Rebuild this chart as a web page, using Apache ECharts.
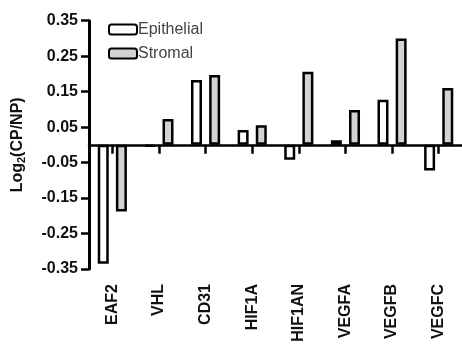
<!DOCTYPE html>
<html><head><meta charset="utf-8">
<script src="https://cdn.jsdelivr.net/npm/echarts@6/dist/echarts.min.js"></script>
<style>html,body{margin:0;padding:0;background:#fff}#c{width:462px;height:350px}</style>
</head><body><div id="c"></div>
<script>
const categories = ['EAF2','VHL','CD31','HIF1A','HIF1AN','VEGFA','VEGFB','VEGFC'];
const epithelial = [-0.335, -0.005, 0.183, 0.042, -0.042, 0.013, 0.127, -0.072];
const stromal = [-0.188, 0.073, 0.197, 0.055, 0.206, 0.098, 0.300, 0.160];
const yTicks = [-0.35, -0.25, -0.15, -0.05, 0.05, 0.15, 0.25, 0.35];

const chart = echarts.init(document.getElementById('c'));
const font = 'Arial, "Liberation Sans", sans-serif';
chart.setOption({
  animation: false,
  grid: {left: 89, right: 0, top: 20.7, bottom: 81},
  legend: {
    orient: 'vertical', left: 108, top: 21.5, padding: 0,
    itemWidth: 28, itemHeight: 10, itemGap: 8,
    icon: 'roundRect',
    textStyle: {fontFamily: font, fontSize: 16, color: '#444', padding: [0,0,0,-4]},
    data: ['Epithelial', 'Stromal']
  },
  xAxis: [{
    type: 'category', data: categories, position: 'bottom',
    axisLine: {show: false, onZero: false}, axisTick: {show: false},
    axisLabel: {interval: 0, rotate: 90, margin: 15, fontFamily: font, fontSize: 16, fontWeight: 'bold', color: '#111'}
  }, {
    type: 'category', data: categories, position: 'bottom',
    axisLine: {show: true, onZero: true, lineStyle: {color: '#000', width: 2.5}},
    axisTick: {show: true, interval: 0, alignWithLabel: true, length: 9, lineStyle: {color: '#000', width: 2.5}},
    axisLabel: {show: false, interval: 0}
  }],
  yAxis: {
    type: 'value', min: -0.35, max: 0.35,
    splitLine: {show: false},
    axisLine: {show: true, lineStyle: {color: '#000', width: 3}},
    axisTick: {show: true, length: 8, customValues: yTicks, lineStyle: {color: '#000', width: 2.5}},
    axisLabel: {customValues: yTicks, margin: 11, fontFamily: font, fontSize: 16, fontWeight: 'bold', color: '#111',
      formatter: v => v.toFixed(2)},
    name: '{a|Log}{b|2}{a|(CP/NP)}', nameLocation: 'middle', nameRotate: 90, nameGap: 62,
    nameTextStyle: {rich: {
      a: {fontFamily: font, fontSize: 16, fontWeight: 'bold', color: '#111'},
      b: {fontFamily: font, fontSize: 11, fontWeight: 'bold', color: '#111', verticalAlign: 'bottom', padding: [7,0,0,0]}
    }}
  },
  series: [{
    name: 'Epithelial', type: 'bar', data: epithelial, xAxisIndex: 1,
    barWidth: 11, barGap: '65%',
    itemStyle: {color: '#fff', borderColor: '#000', borderWidth: 2.5}
  }, {
    name: 'Stromal', type: 'bar', data: stromal, xAxisIndex: 1,
    barWidth: 11, barGap: '65%',
    itemStyle: {color: '#d3d3d3', borderColor: '#000', borderWidth: 2.5}
  }]
});
</script></body></html>
